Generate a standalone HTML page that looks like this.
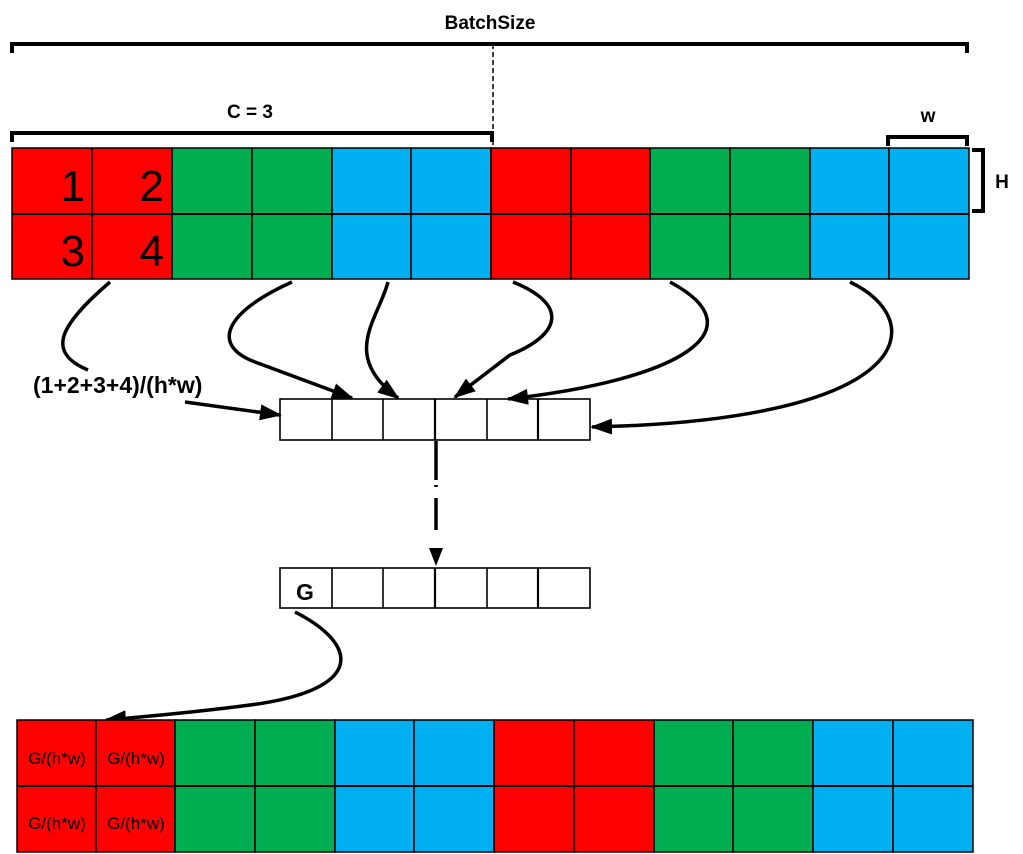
<!DOCTYPE html>
<html><head><meta charset="utf-8"><style>html,body{margin:0;padding:0;background:#fff}svg{display:block}</style></head>
<body>
<svg width="1023" height="854" viewBox="0 0 1023 854" xmlns="http://www.w3.org/2000/svg" font-family="Liberation Sans, sans-serif">
<defs>
<marker id="ah2" markerWidth="22" markerHeight="20" refX="20" refY="10" orient="auto" markerUnits="userSpaceOnUse" viewBox="0 0 22 20">
<path d="M0,2 L22,10 L0,18 z" fill="#000"/>
</marker>
</defs>
<!-- top grid -->
<g stroke="#000" stroke-width="1.5">
<rect x="12" y="148" width="80" height="131" fill="#ff0000"/>
<rect x="92" y="148" width="80" height="131" fill="#ff0000"/>
<rect x="172" y="148" width="80" height="131" fill="#00ad50"/>
<rect x="252" y="148" width="80" height="131" fill="#00ad50"/>
<rect x="332" y="148" width="79" height="131" fill="#00b0f0"/>
<rect x="411" y="148" width="80" height="131" fill="#00b0f0"/>
<rect x="491" y="148" width="80" height="131" fill="#ff0000"/>
<rect x="571" y="148" width="79" height="131" fill="#ff0000"/>
<rect x="650" y="148" width="80" height="131" fill="#00ad50"/>
<rect x="730" y="148" width="80" height="131" fill="#00ad50"/>
<rect x="810" y="148" width="79" height="131" fill="#00b0f0"/>
<rect x="889" y="148" width="80" height="131" fill="#00b0f0"/>
<line x1="12" y1="214" x2="969" y2="214" stroke-width="2"/>
</g>
<g font-size="44" fill="#000" text-anchor="end">
<text x="85" y="201">1</text><text x="164" y="201">2</text>
<text x="85" y="266">3</text><text x="164" y="266">4</text>
</g>
<!-- brackets -->
<g stroke="#000" stroke-width="4" fill="none">
<path d="M12,53 V44 H967 V53"/>
<path d="M12,142 V133 H492 V142"/>
<path d="M888,146 V137 H967 V146"/>
<path d="M972,150 H983 V211 H972"/>
</g>
<line x1="493" y1="44" x2="493" y2="148" stroke="#000" stroke-width="1.5" stroke-dasharray="5,3"/>
<g font-weight="bold" fill="#000">
<text x="490" y="29" font-size="19" text-anchor="middle">BatchSize</text>
<text x="250" y="118" font-size="19" text-anchor="middle">C = 3</text>
<text x="928" y="122" font-size="19" text-anchor="middle">w</text>
<text x="1002" y="188" font-size="19" text-anchor="middle">H</text>
<text x="33" y="393" font-size="23">(1+2+3+4)/(h*w)</text>
</g>
<!-- middle boxes -->
<g stroke="#000" stroke-width="1.6" fill="#fff">
<rect x="280" y="399" width="310" height="41"/>
<line x1="332" y1="399" x2="332" y2="440"/><line x1="383" y1="399" x2="383" y2="440"/>
<line x1="435" y1="399" x2="435" y2="440" stroke-width="2.2"/><line x1="487" y1="399" x2="487" y2="440"/>
<line x1="538" y1="399" x2="538" y2="440" stroke-width="2.2"/>
<rect x="280" y="568" width="310" height="40"/>
<line x1="332" y1="568" x2="332" y2="608"/><line x1="383" y1="568" x2="383" y2="608"/>
<line x1="435" y1="568" x2="435" y2="608" stroke-width="2.2"/><line x1="487" y1="568" x2="487" y2="608"/>
<line x1="538" y1="568" x2="538" y2="608" stroke-width="2.2"/>
</g>
<text x="305" y="600" font-size="23" font-weight="bold" text-anchor="middle">G</text>
<!-- curves -->
<g stroke="#000" stroke-width="3.5" fill="none">
<path d="M110,282 C60,325 45,352 88,370"/>
<path d="M185,402 L280,415" marker-end="url(#ah2)"/>
<path d="M292,282 C225,312 210,345 255,362 L352,398" marker-end="url(#ah2)"/>
<path d="M388,282 C378,320 340,355 398,398" marker-end="url(#ah2)"/>
<path d="M513,282 C570,305 560,335 510,355 L455,397" marker-end="url(#ah2)"/>
<path d="M670,282 C760,330 680,380 508,399" marker-end="url(#ah2)"/>
<path d="M850,282 C930,320 920,420 592,427" marker-end="url(#ah2)"/>
<path d="M295,612 C360,645 365,690 250,705 C190,713 140,717 106,720" marker-end="url(#ah2)"/>
</g>
<path d="M436,441 V480 M436,485 V487 M436,498 V530" stroke="#000" stroke-width="3.5" fill="none"/>
<path d="M429,548 L443,548 L436,566 z" fill="#000"/>
<!-- bottom grid -->
<g stroke="#000" stroke-width="1.5">
<rect x="17" y="720" width="79" height="132" fill="#ff0000"/>
<rect x="96" y="720" width="79" height="132" fill="#ff0000"/>
<rect x="175" y="720" width="80" height="132" fill="#00ad50"/>
<rect x="255" y="720" width="80" height="132" fill="#00ad50"/>
<rect x="335" y="720" width="79" height="132" fill="#00b0f0"/>
<rect x="414" y="720" width="80" height="132" fill="#00b0f0"/>
<rect x="494" y="720" width="80" height="132" fill="#ff0000"/>
<rect x="574" y="720" width="80" height="132" fill="#ff0000"/>
<rect x="654" y="720" width="79" height="132" fill="#00ad50"/>
<rect x="733" y="720" width="80" height="132" fill="#00ad50"/>
<rect x="813" y="720" width="80" height="132" fill="#00b0f0"/>
<rect x="893" y="720" width="80" height="132" fill="#00b0f0"/>
<line x1="17" y1="786" x2="973" y2="786" stroke-width="2"/>
</g>
<g font-size="17" fill="#000" text-anchor="middle">
<text x="57" y="764">G/(h*w)</text><text x="136" y="764">G/(h*w)</text>
<text x="57" y="829">G/(h*w)</text><text x="136" y="829">G/(h*w)</text>
</g>
</svg>
</body></html>
